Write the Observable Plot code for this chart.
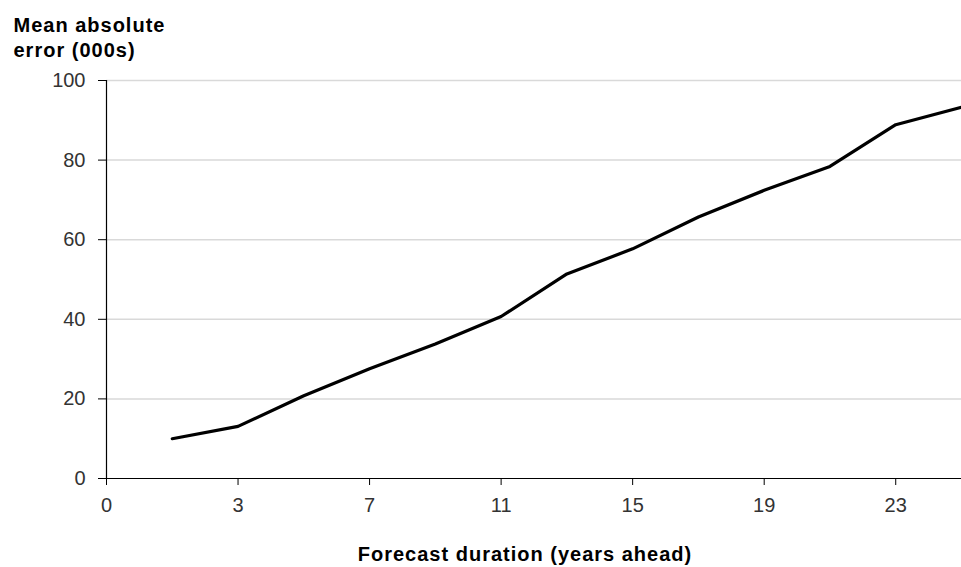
<!DOCTYPE html>
<html>
<head>
<meta charset="utf-8">
<script src="https://cdn.jsdelivr.net/npm/d3@7"></script>
<script src="https://cdn.jsdelivr.net/npm/@observablehq/plot@0.6"></script>
<style>
  html, body { margin: 0; padding: 0; background: #fff; }
  #chart svg { display: block; }
  #chart g[aria-label="text"] text { letter-spacing: 1px; }
</style>
</head>
<body>
<div id="chart"></div>
<script>
// Forecast duration categories (years ahead) — the first category has no value
const categories = ["0","1","3","5","7","9","11","13","15","17","19","21","23","25"];
// Mean absolute error (000s)
const values = [null, 10, 13.1, 20.8, 27.6, 33.8, 40.7, 51.4, 57.7, 65.7, 72.4, 78.4, 88.9, 93.3];
// Labelled x ticks (every other category)
const xTickLabels = ["0","3","7","11","15","19","23"];
const yTicks = [0, 20, 40, 60, 80, 100];
const gridTicks = [20, 40, 60, 80, 100];
const yTitle = "Mean absolute\nerror (000s)";
const xTitle = "Forecast duration (years ahead)";

const rows = categories.map((c, i) => ({cat: c, value: values[i]}));

const font = "'Liberation Sans', Arial, Helvetica, sans-serif";

const chart = Plot.plot({
  width: 961,
  height: 567,
  marginLeft: 106,
  marginRight: 0,
  marginTop: 80,
  marginBottom: 89,
  style: {fontFamily: font, fontSize: "20px", background: "#fff", color: "#000", overflow: "visible"},
  x: {type: "point", domain: categories, padding: 0, round: false},
  y: {domain: [0, 100]},
  marks: [
    Plot.gridY(gridTicks, {stroke: "#d9d9d9", strokeOpacity: 1, strokeWidth: 1.5}),
    Plot.ruleY([0], {stroke: "#000", strokeWidth: 1.2}),
    Plot.ruleX([categories[0]], {stroke: "#000", strokeWidth: 1.2}),
    Plot.axisY(yTicks, {tickSize: 8, tickPadding: 13, fontSize: 20, fill: "#333", stroke: "#000", label: null}),
    Plot.axisX(xTickLabels, {tickSize: 7, tickPadding: 12, fontSize: 20, fill: "#333", stroke: "#000", label: null}),
    Plot.line(rows.filter(d => d.value != null), {x: "cat", y: "value", stroke: "#000", strokeWidth: 3.2, strokeLinejoin: "round"}),
    Plot.text([yTitle], {frameAnchor: "top-left", textAnchor: "start", lineAnchor: "top", lineHeight: 1.25, dx: -93, dy: -66, fontSize: 20, fontWeight: "bold", fill: "#000"}),
    Plot.text([xTitle], {frameAnchor: "bottom", textAnchor: "middle", lineAnchor: "bottom", dx: -9, dy: 82, fontSize: 20, fontWeight: "bold", fill: "#000"})
  ]
});

document.getElementById("chart").appendChild(chart);
</script>
</body>
</html>
